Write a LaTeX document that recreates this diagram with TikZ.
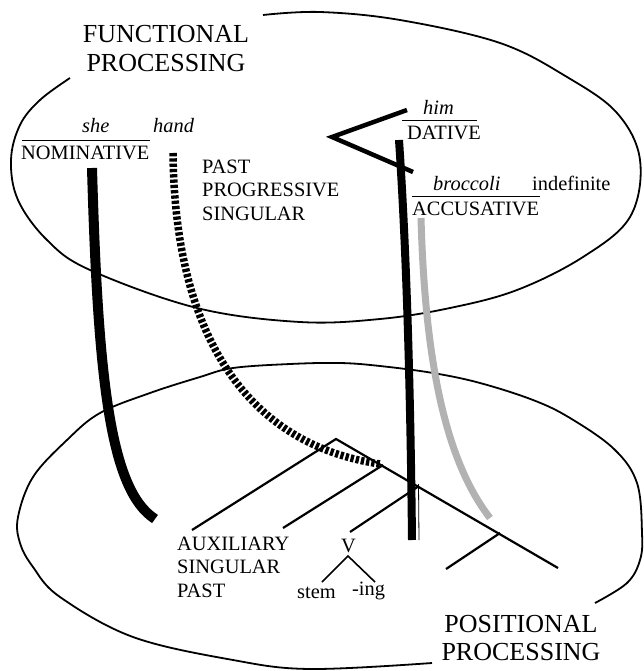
\documentclass[tikz,border=0pt]{standalone}
\usepackage{fontspec}
\setmainfont{Liberation Serif}
\begin{document}
\begin{tikzpicture}[x=1pt,y=-1pt,
  lab/.style={inner sep=0pt, font=\fontsize{20.4}{23.5}\selectfont},
  ttl/.style={inner sep=0pt, align=center},
  ell/.style={line width=1.8pt},
  branch/.style={line width=2.2pt},
  vbranch/.style={line width=1.6pt},
  rule/.style={line width=1pt},
  thickbar/.style={line width=10pt},
  dashbar/.style={line width=7.5pt, dash pattern=on 3.3pt off 2pt},
  greybar/.style={line width=7pt, black!30},
  vbar/.style={line width=8pt},
  angle/.style={line width=4.5pt}]
\useasboundingbox (0,0) rectangle (643,671);

% ellipses
\draw[ell] plot[smooth, tension=0.6] coordinates {(263,15) (320,12) (400,20) (500,43) (567,77) (617,113) (640,160) (630,217) (583,257) (517,290) (450,308) (380,319) (300,322) (197,308) (90,270) (47,240) (18,200) (11,160) (20,125) (40,100) (70,78)};
\draw[ell] plot[smooth, tension=0.6] coordinates {(595,603) (627,583) (640,560) (642,533) (637,483) (614,449) (570,418) (533,400) (480,383) (433,373) (380,366) (340,363) (290,364) (233,368) (200,377) (150,393) (100,413) (67,440) (33,477) (18,517) (20,543) (33,567) (60,597) (133,637) (233,660) (310,669) (432,663)};

% titles
\node[ttl, anchor=north, font=\fontsize{26}{29.4}\selectfont] (fp) at (166,25) {FUNCTIONAL\\PROCESSING};
\node[ttl, anchor=north, font=\fontsize{26}{28.3}\selectfont] (pp) at (521,615) {POSITIONAL\\PROCESSING};

% labels
\node[lab, anchor=base west] (she) at (82,133) {\itshape she};
\node[lab, anchor=base west] (hand) at (153,133) {\itshape hand};
\node[lab, anchor=base west] (nom) at (21,160) {NOMINATIVE};
\node[lab, anchor=north west, align=left] (pps) at (202,159.6) {PAST\\PROGRESSIVE\\SINGULAR};
\node[lab, anchor=base west] (him) at (423,115) {\itshape him};
\node[lab, anchor=base west] (dat) at (407,140) {DATIVE};
\node[lab, anchor=base west] (broc) at (433,190) {\itshape broccoli};
\node[lab, anchor=base west] (indef) at (532,190) {indefinite};
\node[lab, anchor=base west] (acc) at (412,215) {ACCUSATIVE};
\node[lab, anchor=north west, align=left] (aux) at (177,536.6) {AUXILIARY\\SINGULAR\\PAST};
\node[lab, anchor=base] (v) at (348.5,552) {V};
\node[lab, anchor=base west] (stem) at (297,598) {stem};
\node[lab, anchor=base west] (ing) at (352,595) {-ing};

% rules
\coordinate (r1a) at (22,141); \coordinate (r1b) at (150,141);
\coordinate (r2a) at (402,121); \coordinate (r2b) at (477,121);
\coordinate (r3a) at (412,196); \coordinate (r3b) at (540,196);
\draw[rule] (r1a) -- (r1b);
\draw[rule] (r2a) -- (r2b);
\draw[rule] (r3a) -- (r3b);

% tree in lower ellipse
\coordinate (s) at (336,439);
\coordinate (auxend) at (192,530);
\coordinate (mainend) at (558,568);
\coordinate (n1a) at (283,528); \coordinate (n1b) at (383,465);
\coordinate (n2a) at (350,532); \coordinate (n2b) at (419,486);
\coordinate (n3a) at (446,569); \coordinate (n3b) at (500,533);
\draw[branch] (auxend) -- (s) -- (mainend);
\draw[branch] (n1a) -- (n1b);
\draw[branch] (n2a) -- (n2b);
\draw[branch] (n3a) -- (n3b);
\coordinate (vt) at (348,556);
\coordinate (vl) at (322,582);
\coordinate (vr) at (375,582);
\draw[vbranch] (vl) -- (vt) -- (vr);

% links between the two levels
\coordinate (a1) at (92,168); \coordinate (a2) at (155,519);
\draw[thickbar] (a1) .. controls (98,380) and (110,490) .. (a2);
\coordinate (b1) at (173,153); \coordinate (b2) at (380,464);
\draw[dashbar] (b1) .. controls (175,340) and (250,445) .. (b2);
\coordinate (c1) at (407,110); \coordinate (c2) at (332,137); \coordinate (c3) at (413,172);
\draw[angle] (c1) -- (c2) -- (c3);
\coordinate (d1) at (399,140); \coordinate (d2) at (412,540);
\draw[vbar] (d1) .. controls (405,230) and (410,350) .. (d2);
\coordinate (d3) at (418.5,484); \coordinate (d4) at (419,540);
\draw[line width=0.8pt] (d3) -- (d4);
\coordinate (e1) at (421,218); \coordinate (e2) at (490,518);
\draw[greybar] (e1) .. controls (425,360) and (445,460) .. (e2);
\end{tikzpicture}
\end{document}
